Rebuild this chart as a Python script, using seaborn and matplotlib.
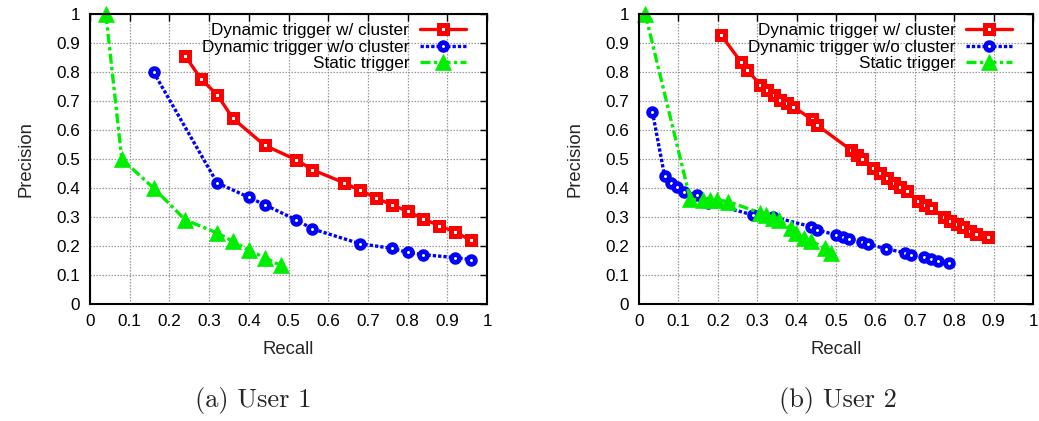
import numpy as np
import pandas as pd
import matplotlib
matplotlib.use("Agg")
import matplotlib.pyplot as plt
import seaborn as sns

sns.set_theme(style="white")
plt.rcParams['font.family'] = ['Liberation Sans', 'DejaVu Sans']

# ---- User 1 ----
u1_dyn_c_recall = [0.24, 0.28, 0.32, 0.36, 0.44, 0.52, 0.56, 0.64, 0.68, 0.72, 0.76, 0.80, 0.84, 0.88, 0.92, 0.96]
u1_dyn_c_prec = [0.855, 0.775, 0.722, 0.64, 0.547, 0.497, 0.463, 0.418, 0.392, 0.366, 0.342, 0.32, 0.293, 0.27, 0.248, 0.219]
u1_dyn_nc_recall = [0.16, 0.32, 0.40, 0.44, 0.52, 0.56, 0.68, 0.76, 0.80, 0.84, 0.92, 0.96]
u1_dyn_nc_prec = [0.80, 0.418, 0.368, 0.342, 0.29, 0.259, 0.208, 0.192, 0.178, 0.17, 0.16, 0.153]
u1_static_recall = [0.04, 0.08, 0.16, 0.24, 0.32, 0.36, 0.40, 0.44, 0.48]
u1_static_prec = [1.0, 0.50, 0.40, 0.29, 0.245, 0.216, 0.185, 0.16, 0.133]

# ---- User 2 ----
u2_dyn_c_recall = [0.208, 0.258, 0.275, 0.308, 0.325, 0.342, 0.358, 0.375, 0.392, 0.438, 0.452,
                   0.538, 0.554, 0.565, 0.595, 0.612, 0.629, 0.646, 0.662, 0.679, 0.709, 0.725,
                   0.742, 0.773, 0.790, 0.807, 0.823, 0.840, 0.855, 0.886]
u2_dyn_c_prec = [0.928, 0.836, 0.807, 0.755, 0.738, 0.721, 0.703, 0.692, 0.680, 0.637, 0.617,
                 0.531, 0.514, 0.499, 0.468, 0.451, 0.436, 0.418, 0.402, 0.391, 0.356, 0.341,
                 0.330, 0.301, 0.287, 0.276, 0.264, 0.253, 0.241, 0.232]
u2_dyn_nc_recall = [0.034, 0.065, 0.082, 0.096, 0.113, 0.147, 0.176, 0.289, 0.339, 0.436, 0.453,
                    0.501, 0.518, 0.532, 0.565, 0.580, 0.628, 0.674, 0.691, 0.724, 0.741, 0.759, 0.788]
u2_dyn_nc_prec = [0.663, 0.441, 0.416, 0.402, 0.387, 0.376, 0.349, 0.307, 0.301, 0.267, 0.255,
                  0.238, 0.232, 0.224, 0.215, 0.207, 0.190, 0.177, 0.169, 0.161, 0.154, 0.149, 0.142]
u2_static_recall = [0.016, 0.130, 0.163, 0.180, 0.197, 0.226, 0.306, 0.322, 0.339, 0.356, 0.385,
                    0.398, 0.419, 0.436, 0.472, 0.488]
u2_static_prec = [1.0, 0.361, 0.359, 0.357, 0.359, 0.353, 0.315, 0.307, 0.295, 0.290, 0.261,
                  0.244, 0.226, 0.218, 0.192, 0.175]

labels = ["Dynamic trigger w/ cluster", "Dynamic trigger w/o cluster", "Static trigger"]
ticks = [0, 0.1, 0.2, 0.3, 0.4, 0.5, 0.6, 0.7, 0.8, 0.9, 1]
tick_labels = ["0", "0.1", "0.2", "0.3", "0.4", "0.5", "0.6", "0.7", "0.8", "0.9", "1"]
captions = ["(a) User 1", "(b) User 2"]

styles = [
    dict(color="#ff0000", linestyle="-", linewidth=2.4, marker="s", markersize=6.0,
         markerfacecolor="white", markeredgecolor="#ff0000", markeredgewidth=3.6),
    dict(color="#0000ff", linestyle=(0, (1, 0.6)), linewidth=2.4, marker="o", markersize=5.6,
         markerfacecolor="white", markeredgecolor="#0000ff", markeredgewidth=3.4),
    dict(color="#00ee00", linestyle=(0, (3, 1, 1, 1)), linewidth=2.4, marker="^", markersize=11,
         markerfacecolor="#00ee00", markeredgecolor="#00ee00", markeredgewidth=0.5),
]

fig = plt.figure(figsize=(10.39, 4.21), dpi=100)
ax1 = fig.add_axes([90/1039, 1-304/421, 397/1039, 290/421])
ax2 = fig.add_axes([639/1039, 1-304/421, 394/1039, 290/421])

datasets = [
    [(u1_dyn_c_recall, u1_dyn_c_prec), (u1_dyn_nc_recall, u1_dyn_nc_prec), (u1_static_recall, u1_static_prec)],
    [(u2_dyn_c_recall, u2_dyn_c_prec), (u2_dyn_nc_recall, u2_dyn_nc_prec), (u2_static_recall, u2_static_prec)],
]

for ax, data, cap in zip([ax1, ax2], datasets, captions):
    for (x, y), lab, st in zip(data, labels, styles):
        df = pd.DataFrame({"Recall": x, "Precision": y})
        sns.lineplot(data=df, x="Recall", y="Precision", ax=ax, sort=False, estimator=None,
                     label=lab, clip_on=False, **st)
    ax.set_xlim(0, 1)
    ax.set_ylim(0, 1)
    ax.set_xticks(ticks)
    ax.set_xticklabels(tick_labels)
    ax.set_yticks(ticks)
    ax.set_yticklabels(tick_labels)
    ax.grid(True, color="#999999", linestyle=(0, (1.2, 1.2)), linewidth=0.9)
    ax.set_axisbelow(True)
    ax.tick_params(direction="in", length=5, width=1, top=True, right=True,
                   labelsize=12.3, colors="black", pad=7)
    for sp in ax.spines.values():
        sp.set_color("black")
        sp.set_linewidth(1.5)
    ax.set_xlabel("Recall", fontsize=13.3, labelpad=9)
    ax.set_ylabel("Precision", fontsize=13.3, labelpad=16)
    leg = ax.legend(loc="upper right", bbox_to_anchor=(0.97, 1.0), markerfirst=False,
                    frameon=False, fontsize=12.3, labelspacing=0.08, handlelength=2.7,
                    handletextpad=0.6, borderaxespad=0.15)
    for t in leg.get_texts():
        t.set_color("black")

fig.text(253/1039, 1-400/421, captions[0], ha="center", va="center", fontsize=19, family="cmr10")
fig.text(838/1039, 1-400/421, captions[1], ha="center", va="center", fontsize=19, family="cmr10")

fig.savefig("out.png", dpi=100)
